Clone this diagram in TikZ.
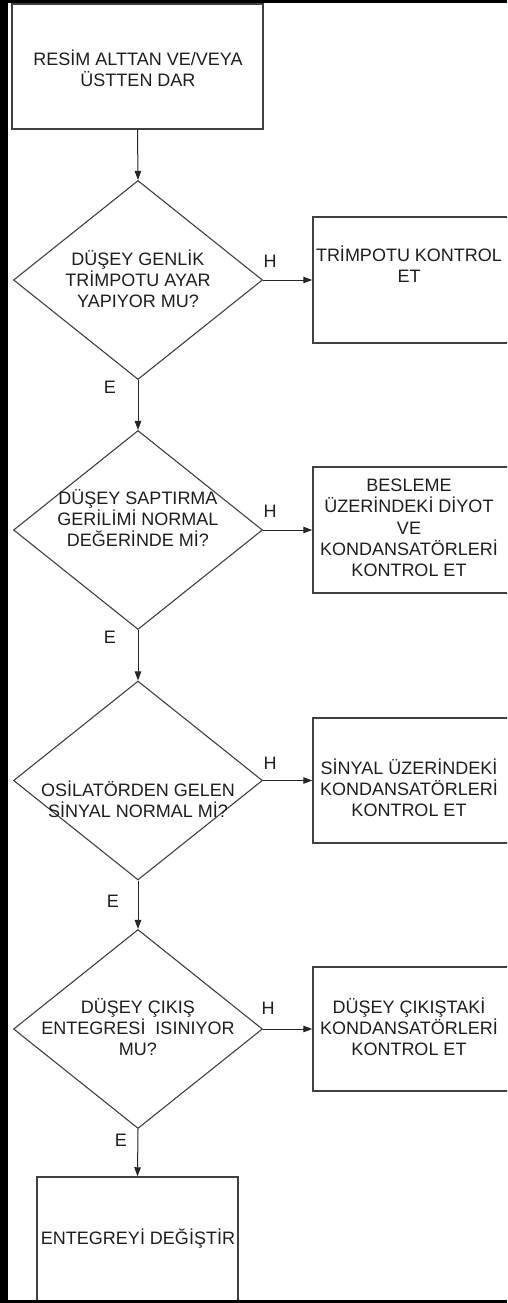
\documentclass[tikz,border=0pt]{standalone}
\usepackage{fontspec}
\setmainfont{Liberation Sans}
\usetikzlibrary{shapes.geometric,arrows.meta}
\definecolor{edgecol}{HTML}{404040}
\definecolor{txtcol}{HTML}{1E1E1E}
\begin{document}
\begin{tikzpicture}[x=1pt,y=-1pt,
  boxshape/.style={draw=edgecol,line width=1.5pt,rectangle,inner sep=0pt},
  decision/.style={draw=edgecol,line width=1.1pt,diamond,inner sep=0pt,aspect=1.25,minimum width=249pt,minimum height=199pt},
  txt/.style={text=txtcol,align=center,inner sep=0pt,font=\fontsize{18}{21.2}\selectfont,execute at begin node=\strut,execute at end node=\strut},
  lbl/.style={text=txtcol,inner sep=0pt,font=\fontsize{18}{21.2}\selectfont},
  flow/.style={draw=black!85,line width=1pt,-{Triangle[length=9pt,width=6.5pt]}}
]
\useasboundingbox (0,0) rectangle (507,1303);
\clip (0,0) rectangle (507,1303);
\fill[white] (0,0) rectangle (507,1303);

% start box
\node[boxshape,minimum width=251pt,minimum height=125pt] (b1) at (137.5,66.5) {};
\node[txt] (b1t) at (138,71) {RESİM ALTTAN VE/VEYA\\ÜSTTEN DAR};

% decisions
\node[decision] (d1) at (138,280) {};
\node[txt] (d1t) at (138,282) {DÜŞEY GENLİK\\TRİMPOTU AYAR\\YAPIYOR MU?};
\node[decision] (d2) at (138,530) {};
\node[txt] (d2t) at (138,521) {DÜŞEY SAPTIRMA\\GERİLİMİ NORMAL\\DEĞERİNDE Mİ?};
\node[decision] (d3) at (138,780.5) {};
\node[txt] (d3t) at (138,802) {OSİLATÖRDEN GELEN\\SİNYAL NORMAL Mİ?};
\node[decision] (d4) at (138,1029) {};
\node[txt] (d4t) at (138,1030) {DÜŞEY ÇIKIŞ\\ENTEGRESİ\ \ ISINIYOR\\MU?};

% right boxes
\node[boxshape,minimum width=196pt,minimum height=126pt] (b2) at (411,280) {};
\node[txt] (b2t) at (409,267.5) {TRİMPOTU KONTROL\\ET};
\node[boxshape,minimum width=196pt,minimum height=126pt] (b3) at (411,530) {};
\node[txt] (b3t) at (409,531) {BESLEME\\ÜZERİNDEKİ DİYOT\\VE\\KONDANSATÖRLERİ\\KONTROL ET};
\node[boxshape,minimum width=196pt,minimum height=125pt] (b4) at (411,780.5) {};
\node[txt] (b4t) at (409,791) {SİNYAL ÜZERİNDEKİ\\KONDANSATÖRLERİ\\KONTROL ET};
\node[boxshape,minimum width=196pt,minimum height=124pt] (b5) at (411,1029) {};
\node[txt] (b5t) at (409,1030) {DÜŞEY ÇIKIŞTAKİ\\KONDANSATÖRLERİ\\KONTROL ET};

% end box
\node[boxshape,minimum width=201pt,minimum height=126pt] (b6) at (137.5,1240) {};
\node[txt] (b6t) at (138,1240) {ENTEGREYİ DEĞİŞTİR};

% labels
\node[lbl] (h1) at (270,261) {H};
\node[lbl] (h2) at (270,511) {H};
\node[lbl] (h3) at (270,763) {H};
\node[lbl] (h4) at (268,1008) {H};
\node[lbl] (e1) at (110,387) {E};
\node[lbl] (e2) at (110,637) {E};
\node[lbl] (e3) at (113,901) {E};
\node[lbl] (e4) at (121,1140) {E};

% connectors
\draw[flow] (b1.south) -- (d1.north);
\draw[flow] (d1.south) -- (d2.north);
\draw[flow] (d2.south) -- (d3.north);
\draw[flow] (d3.south) -- (d4.north);
\draw[flow] (d4.south) -- (b6.north);
\draw[flow] (d1.east) -- (b2.west);
\draw[flow] (d2.east) -- (b3.west);
\draw[flow] (d3.east) -- (b4.west);
\draw[flow] (d4.east) -- (b5.west);

% frame
\fill[black] (0,0) rectangle (8,1303);
\fill[black] (0,0) rectangle (507,3);
\fill[black] (0,1300) rectangle (507,1303);
\end{tikzpicture}
\end{document}
